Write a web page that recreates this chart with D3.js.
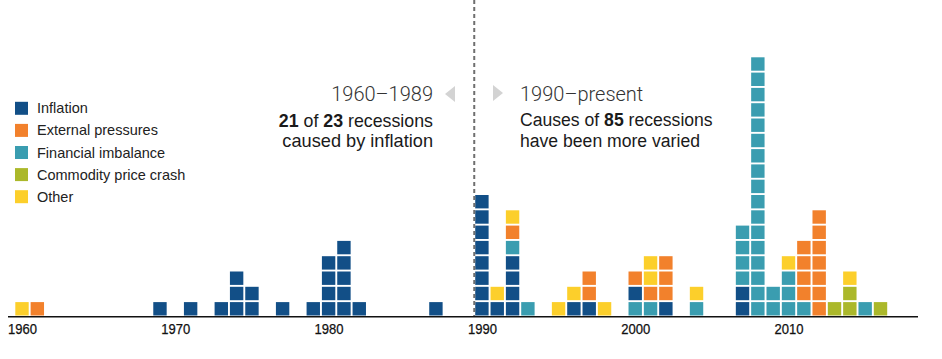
<!DOCTYPE html>
<html>
<head>
<meta charset="utf-8">
<script src="https://cdn.jsdelivr.net/npm/d3@7"></script>
<style>
  html, body { margin: 0; padding: 0; background: #fff; }
  svg { display: block; font-family: "Liberation Sans", Arial, sans-serif; }
</style>
</head>
<body>
<svg id="chart" width="942" height="359"></svg>
<script>
// ---- data ----
const causes = ["Inflation", "External pressures", "Financial imbalance", "Commodity price crash", "Other"];
const causeCodes = ["I", "E", "F", "C", "O"];
const causeColors = ["#124f87", "#f2812c", "#3a9db0", "#abb82a", "#fccf2b"];

const years = [1960, 1961, 1969, 1971, 1973, 1974, 1975, 1977, 1979, 1980, 1981, 1982, 1987,
  1990, 1991, 1992, 1993, 1995, 1996, 1997, 1998, 2000, 2001, 2002, 2004,
  2007, 2008, 2009, 2010, 2011, 2012, 2013, 2014, 2015, 2016];
// stacked causes per year, bottom to top
const stacks = [
  ["O"], ["E"], ["I"], ["I"], ["I"], ["I","I","I"], ["I","I"], ["I"], ["I"], ["I","I","I","I"], ["I","I","I","I","I"], ["I"], ["I"],
  ["I","I","I","I","I","I","I","I"], ["I","O"], ["I","I","I","I","F","E","O"], ["F"], ["O"], ["I","O"], ["I","E","E"], ["O"],
  ["F","I","E"], ["F","E","O","O"], ["I","E","E","E"], ["F","O"],
  ["I","I","F","F","F","F"], ["F","F","F","F","F","F","F","F","F","F","F","F","F","F","F","F","F"], ["F","F"], ["F","F","F","O"],
  ["F","E","E","E","E"], ["E","E","E","E","E","E","E"], ["C"], ["C","C","O"], ["F"], ["C"]
];
const tickYears = [1960, 1970, 1980, 1990, 2000, 2010];

// ---- drawing ----
const svg = d3.select("#chart");
const x = d3.scaleLinear().domain([1960, 2016]).range([22, 880.5]);
const pitch = 15.3;
const y = d3.scaleLinear().domain([0, 17]).range([316, 316 - 17 * pitch]);
const color = d3.scaleOrdinal().domain(causeCodes).range(causeColors);
const sq = 13.4;

// squares
const cells = [];
years.forEach((yr, i) => stacks[i].forEach((c, j) => cells.push({ yr, j, c })));
svg.append("g").selectAll("rect").data(cells).join("rect")
  .attr("x", d => x(d.yr) - sq / 2)
  .attr("y", d => y(d.j + 1) + (pitch - sq) - 0.5)
  .attr("width", sq)
  .attr("height", sq)
  .attr("fill", d => color(d.c));

// dashed divider
svg.append("line")
  .attr("x1", x(1989.5)).attr("x2", x(1989.5))
  .attr("y1", 0).attr("y2", 316)
  .attr("stroke", "#6f6f6f").attr("stroke-width", 2)
  .attr("stroke-dasharray", "4,3");

// axis
const axis = d3.axisBottom(x).tickValues(tickYears).tickFormat(d3.format("d")).tickSize(0).tickPadding(7);
const ag = svg.append("g").attr("transform", "translate(0,316.5)").call(axis);
ag.select(".domain").remove();
ag.selectAll("text")
  .attr("font-family", "'Liberation Sans', Arial, sans-serif")
  .attr("font-size", 14.5)
  .attr("fill", "#111")
  .attr("stroke", "#111").attr("stroke-width", 0.25)
  .attr("textLength", 29)
  .attr("lengthAdjust", "spacingAndGlyphs");
svg.append("line")
  .attr("x1", 8).attr("x2", 918)
  .attr("y1", 316.8).attr("y2", 316.8)
  .attr("stroke", "#111").attr("stroke-width", 1.6);

// legend
const lg = svg.append("g");
causes.forEach((name, i) => {
  const cy = 108.3 + i * 22.1;
  lg.append("rect").attr("x", 15).attr("y", cy - 6.5).attr("width", 13).attr("height", 13)
    .attr("fill", causeColors[i]);
  lg.append("text").attr("x", 37).attr("y", cy + 5)
    .attr("font-size", 14.5).attr("fill", "#222").text(name);
});

// annotations
const heading = { family: "Roboto, 'Liberation Sans', sans-serif", weight: 300, size: 20 };
svg.append("text").attr("x", 433).attr("y", 101).attr("text-anchor", "end")
  .attr("font-family", heading.family).attr("font-weight", heading.weight)
  .attr("font-size", heading.size).attr("fill", "#333").text("1960\u20131989");
svg.append("text").attr("x", 520).attr("y", 101).attr("text-anchor", "start")
  .attr("font-family", heading.family).attr("font-weight", heading.weight)
  .attr("font-size", heading.size).attr("fill", "#333").text("1990\u2013present");

function richText(xp, yp, anchor, parts, size) {
  const t = svg.append("text").attr("x", xp).attr("y", yp).attr("text-anchor", anchor)
    .attr("font-size", size).attr("fill", "#1a1a1a");
  parts.forEach(p => t.append("tspan").attr("font-weight", p[1] ? "bold" : "normal").text(p[0]));
}
richText(433, 127, "end", [["21", true], [" of ", false], ["23", true], [" recessions", false]], 17.8);
richText(433, 147, "end", [["caused by inflation", false]], 18.2);
richText(520, 126, "start", [["Causes of ", false], ["85", true], [" recessions", false]], 17.6);
richText(520, 147, "start", [["have been more varied", false]], 17.6);

// arrows
svg.append("path").attr("d", "M455,86 L455,102 L445,94 Z").attr("fill", "#d3d3d3");
svg.append("path").attr("d", "M493,85 L493,101 L503,93 Z").attr("fill", "#d3d3d3");
</script>
</body>
</html>
